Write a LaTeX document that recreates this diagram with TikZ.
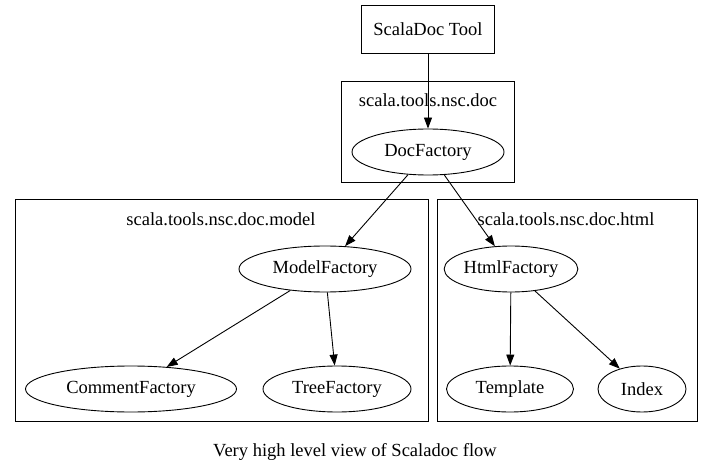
\documentclass[tikz,border=0pt]{standalone}
\usepackage{fontspec}
\setmainfont{Liberation Serif}
\usepackage{tikz}
\usetikzlibrary{arrows.meta,positioning,shapes.geometric,fit,calc}
\tikzset{
    caixa/.style={
        rectangle,
        draw,
        minimum width=133pt,
        minimum height=48pt
    },
    fabrica/.style={
        ellipse,
        draw,
        minimum height=46pt,
        inner sep=0pt
    },
    pacote/.style={draw, inner sep=0pt},
    rotulo/.style={anchor=center},
    fluxo/.style={-{Triangle[length=11pt,width=8pt]}}
}

\begin{document}
\begin{tikzpicture}[x=1pt, y=-1pt, line width=0.9pt,
        font=\fontsize{18.5pt}{21pt}\selectfont]
        \useasboundingbox (0,0) rectangle (712,473);

        % pacotes
        \draw[pacote] (341,81) rectangle (514,182);
        \node[rotulo] (docLabel) at (428,100) {scala.tools.nsc.doc};
        \draw[pacote] (15,199) rectangle (428,421);
        \node[rotulo] (modelLabel) at (221,219) {scala.tools.nsc.doc.model};
        \draw[pacote] (437,199) rectangle (697,421);
        \node[rotulo] (htmlLabel) at (566,219) {scala.tools.nsc.doc.html};

        % nos
        \node[caixa] (tool) at (428,29) {ScalaDoc Tool};
        \node[fabrica, minimum width=152pt] (docFactory) at (428,152) {DocFactory};
        \node[fabrica, minimum width=172pt] (modelFactory) at (325,269) {ModelFactory};
        \node[fabrica, minimum width=211pt] (commentFactory) at (131,389) {CommentFactory};
        \node[fabrica, minimum width=148pt] (treeFactory) at (337,389) {TreeFactory};
        \node[fabrica, minimum width=129pt] (htmlFactory) at (511,269) {HtmlFactory};
        \node[fabrica, minimum width=127pt] (template) at (510,389) {Template};
        \node[fabrica, minimum width=88pt] (index) at (642,389) {Index};

        \node (caption) at (355,452) {Very high level view of Scaladoc flow};

        \draw[fluxo] (tool) -- (docFactory);
        \draw[fluxo] (docFactory) -- (modelFactory);
        \draw[fluxo] (docFactory) -- (htmlFactory);
        \draw[fluxo] (modelFactory) -- (commentFactory);
        \draw[fluxo] (modelFactory) -- (treeFactory);
        \draw[fluxo] (htmlFactory) -- (template);
        \draw[fluxo] (htmlFactory) -- (index);
    \end{tikzpicture}
\end{document}
